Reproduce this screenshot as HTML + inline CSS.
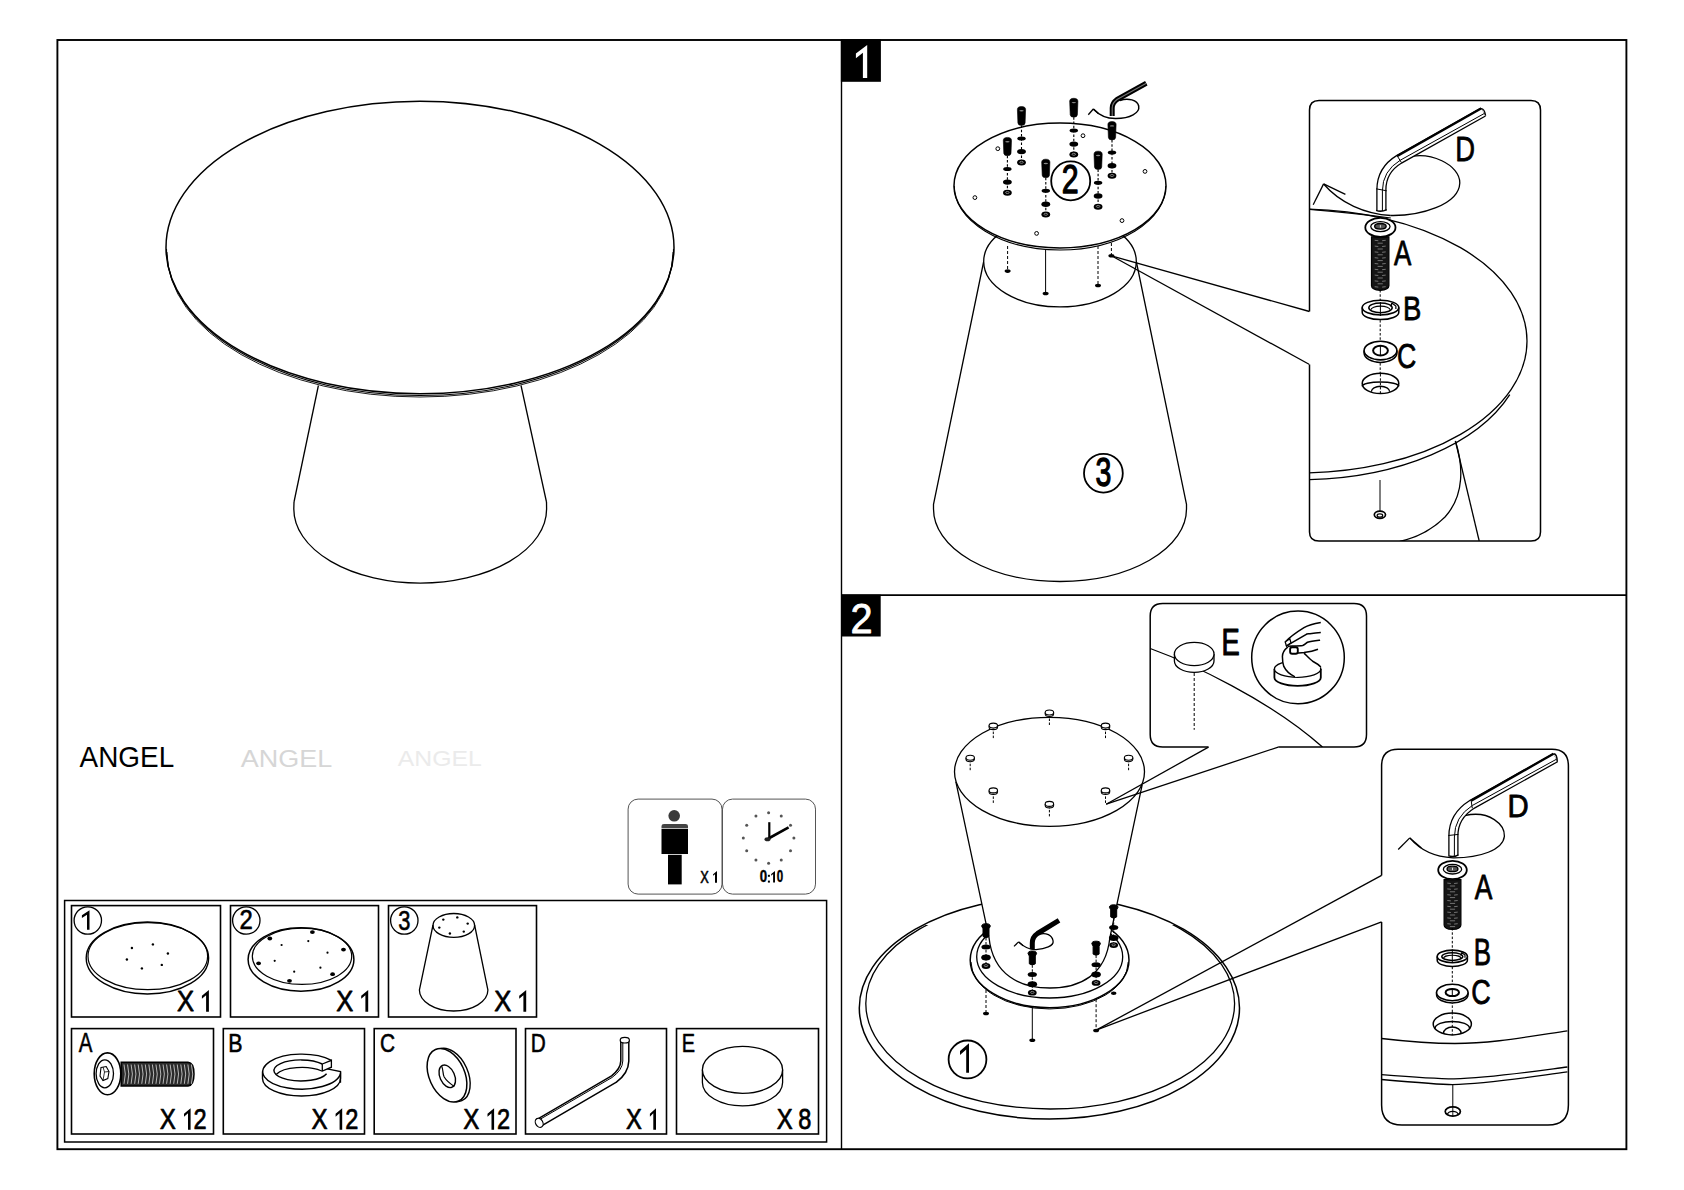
<!DOCTYPE html>
<html><head><meta charset="utf-8"><title>ANGEL assembly</title>
<style>
html,body{margin:0;padding:0;background:#fff;}
body{width:1684px;height:1190px;overflow:hidden;}
svg{display:block;}
text{font-family:"Liberation Sans", sans-serif;font-kerning:none;}
</style></head>
<body>
<svg width="1684" height="1190" viewBox="0 0 1684 1190">
<rect x="0" y="0" width="1684" height="1190" fill="#fff"/>
<rect x="57.4" y="40" width="1569" height="1109.2" fill="none" stroke="#000" stroke-width="1.9"/>
<line x1="841.5" y1="40" x2="841.5" y2="1149.2" stroke="#000" stroke-width="1.4"/>
<line x1="841.5" y1="595.1" x2="1626.4" y2="595.1" stroke="#000" stroke-width="1.6"/>
<line x1="318.4" y1="385.5" x2="294" y2="502" stroke="#000" stroke-width="1.3"/>
<line x1="521" y1="385.5" x2="546.5" y2="502" stroke="#000" stroke-width="1.3"/>
<path d="M294 502 L293.8 509 A126.3 74 0 0 0 546.6 509 L546.5 502" fill="none" stroke="#000" stroke-width="1.3"/>
<ellipse cx="420" cy="247.5" rx="254" ry="146.2" fill="#fff" stroke="#000" stroke-width="1.5"/>
<path d="M166.5 249 A253.5 146.5 0 0 0 673.5 249" fill="none" stroke="#000" stroke-width="1.1"/>
<path d="M167 252 A253 145 0 0 0 673 252" fill="none" stroke="#000" stroke-width="0.9"/>
<text transform="translate(79.6 767.4) scale(0.966 1)" font-size="28.9" fill="#000">ANGEL</text>
<text transform="translate(240.7 766.6) scale(1.12 1)" font-size="24.1" fill="#d6d6d6">ANGEL</text>
<text transform="translate(397.8 765.8) scale(1.137 1)" font-size="21.8" fill="#ebebeb">ANGEL</text>
<rect x="628.1" y="799.1" width="93.9" height="95" fill="none" stroke="#555" stroke-width="1" rx="10"/>
<rect x="722.5" y="799.1" width="93" height="95" fill="none" stroke="#555" stroke-width="1" rx="10"/>
<circle cx="674.2" cy="815.8" r="5.8" fill="#3a3a3a"/>
<path d="M661.5 828.2 L661.5 826 Q661.5 824 664 824 L685.5 824 Q688 824 688 826 L688 828.2 Z" fill="#444" stroke="none" stroke-width="0"/>
<rect x="661.5" y="828.9" width="26.5" height="25.1" fill="#000" stroke="none" stroke-width="0"/>
<rect x="668" y="854.8" width="13.7" height="29.6" fill="#000" stroke="none" stroke-width="0"/>
<text transform="translate(700.26 882.5) scale(0.7917 1)" font-size="16.21" fill="#000" stroke="#000" stroke-width="0.5" stroke-linejoin="round">X</text>
<path d="M717 871.1 L717 882.75 L715 882.75 L715 874.13 L713.1 875.76 L713.1 874.13 Z" fill="#000"/>
<circle cx="768.6" cy="812.7" r="1.5" fill="#555"/>
<circle cx="781.25" cy="816.09" r="1.5" fill="#555"/>
<circle cx="790.51" cy="825.35" r="1.5" fill="#555"/>
<circle cx="793.9" cy="838" r="1.5" fill="#555"/>
<circle cx="790.51" cy="850.65" r="1.5" fill="#555"/>
<circle cx="781.25" cy="859.91" r="1.5" fill="#555"/>
<circle cx="768.6" cy="863.3" r="1.5" fill="#555"/>
<circle cx="755.95" cy="859.91" r="1.5" fill="#555"/>
<circle cx="746.69" cy="850.65" r="1.5" fill="#555"/>
<circle cx="743.3" cy="838" r="1.5" fill="#555"/>
<circle cx="746.69" cy="825.35" r="1.5" fill="#555"/>
<circle cx="755.95" cy="816.09" r="1.5" fill="#555"/>
<line x1="769.3" y1="838.5" x2="769.3" y2="822.2" stroke="#000" stroke-width="2.2"/>
<line x1="768.5" y1="838.5" x2="788.6" y2="827.4" stroke="#000" stroke-width="2.6"/>
<ellipse cx="767.5" cy="839.3" rx="3" ry="2" fill="#222" stroke="none" stroke-width="0"/>
<text transform="translate(759.78 882.25) scale(0.8374 1)" font-size="15.82" fill="#000" font-weight="bold" stroke="#000" stroke-width="0.4" stroke-linejoin="round">0</text>
<rect x="767.9" y="874.8" width="2" height="2" fill="#000"/><rect x="767.9" y="880.6" width="2" height="2" fill="#000"/>
<path d="M775 871 L775 882.6 L773.1 882.6 L773.1 873.96 L771.2 875.64 L771.2 874.02 Z" fill="#000"/>
<text transform="translate(776.84 882.25) scale(0.7311 1)" font-size="15.82" fill="#000" font-weight="bold" stroke="#000" stroke-width="0.4" stroke-linejoin="round">0</text>
<rect x="64.6" y="900.5" width="762" height="241.5" fill="none" stroke="#000" stroke-width="1.5"/>
<rect x="71.5" y="905.6" width="149" height="111.4" fill="none" stroke="#000" stroke-width="1.6"/>
<rect x="230.5" y="905.6" width="148" height="111.4" fill="none" stroke="#000" stroke-width="1.6"/>
<rect x="388.5" y="905.6" width="148" height="111.4" fill="none" stroke="#000" stroke-width="1.6"/>
<rect x="71.5" y="1028.6" width="142" height="105.4" fill="none" stroke="#000" stroke-width="1.6"/>
<rect x="223.3" y="1028.6" width="141.2" height="105.4" fill="none" stroke="#000" stroke-width="1.6"/>
<rect x="374.2" y="1028.6" width="141.8" height="105.4" fill="none" stroke="#000" stroke-width="1.6"/>
<rect x="525.5" y="1028.6" width="141" height="105.4" fill="none" stroke="#000" stroke-width="1.6"/>
<rect x="676.5" y="1028.6" width="142" height="105.4" fill="none" stroke="#000" stroke-width="1.6"/>
<circle cx="87.8" cy="920.5" r="13.7" fill="none" stroke="#000" stroke-width="1.3"/>
<circle cx="246.3" cy="920.5" r="13.7" fill="none" stroke="#000" stroke-width="1.3"/>
<circle cx="404.3" cy="920.5" r="13.7" fill="none" stroke="#000" stroke-width="1.3"/>
<ellipse cx="147.4" cy="958" rx="61.2" ry="36" fill="none" stroke="#000" stroke-width="1.4"/>
<ellipse cx="147.8" cy="956.2" rx="59.8" ry="33.5" fill="none" stroke="#000" stroke-width="1.2"/>
<circle cx="131.9" cy="948" r="1.2" fill="#000"/>
<circle cx="152.9" cy="944.4" r="1.2" fill="#000"/>
<circle cx="167.9" cy="953.5" r="1.2" fill="#000"/>
<circle cx="126.9" cy="959.5" r="1.2" fill="#000"/>
<circle cx="141.9" cy="968.4" r="1.2" fill="#000"/>
<circle cx="161.8" cy="964.9" r="1.2" fill="#000"/>
<ellipse cx="301" cy="959.5" rx="52.9" ry="31.7" fill="none" stroke="#000" stroke-width="1.5"/>
<ellipse cx="302" cy="956.3" rx="49.7" ry="28.1" fill="none" stroke="#000" stroke-width="1.2"/>
<ellipse cx="269.8" cy="938.5" rx="2.4" ry="1.9" fill="#000" stroke="none" stroke-width="0"/>
<ellipse cx="312.4" cy="932.1" rx="2.4" ry="1.9" fill="#000" stroke="none" stroke-width="0"/>
<ellipse cx="343.5" cy="949.6" rx="2.4" ry="1.9" fill="#000" stroke="none" stroke-width="0"/>
<ellipse cx="258.6" cy="963.3" rx="2.4" ry="1.9" fill="#000" stroke="none" stroke-width="0"/>
<ellipse cx="289.5" cy="980.8" rx="2.4" ry="1.9" fill="#000" stroke="none" stroke-width="0"/>
<ellipse cx="332.6" cy="974.2" rx="2.4" ry="1.9" fill="#000" stroke="none" stroke-width="0"/>
<circle cx="281.6" cy="945" r="1.1" fill="#000"/>
<circle cx="308.3" cy="941.1" r="1.1" fill="#000"/>
<circle cx="327.5" cy="952.7" r="1.1" fill="#000"/>
<circle cx="274.7" cy="960.8" r="1.1" fill="#000"/>
<circle cx="294.2" cy="971.7" r="1.1" fill="#000"/>
<circle cx="320.4" cy="967.7" r="1.1" fill="#000"/>
<path d="M433 925 L419.4 990 A34.25 21 0 0 0 487.9 990 L474.6 925" fill="none" stroke="#000" stroke-width="1.3"/>
<ellipse cx="453.8" cy="925.4" rx="20.8" ry="11.9" fill="none" stroke="#000" stroke-width="1.3"/>
<circle cx="443.3" cy="919.6" r="1.2" fill="#000"/>
<circle cx="457.3" cy="917.4" r="1.2" fill="#000"/>
<circle cx="467.7" cy="923.6" r="1.2" fill="#000"/>
<circle cx="439.3" cy="927.6" r="1.2" fill="#000"/>
<circle cx="449.9" cy="933.5" r="1.2" fill="#000"/>
<circle cx="463.8" cy="931.6" r="1.2" fill="#000"/>
<path d="M89.5 910.3 L89.5 929.7 L87 929.7 L87 914.85 L81.9 918.06 L81.9 915.34 Z" fill="#000"/>
<text transform="translate(239.4 929.4) scale(0.8886 1)" font-size="26.92" fill="#000" stroke="#000" stroke-width="0.6" stroke-linejoin="round">2</text>
<text transform="translate(398.26 929.93) scale(0.7924 1)" font-size="27.68" fill="#000" stroke="#000" stroke-width="0.6" stroke-linejoin="round">3</text>
<text transform="translate(176.9 1011.33) scale(0.8441 1)" font-size="30.31" fill="#000" stroke="#000" stroke-width="0.75" stroke-linejoin="round">X</text>
<path d="M208.9 990.1 L208.9 1011.7 L206.1 1011.7 L206.1 995.17 L201.9 998.74 L201.9 995.72 Z" fill="#000"/>
<text transform="translate(336.2 1011.33) scale(0.8441 1)" font-size="30.31" fill="#000" stroke="#000" stroke-width="0.75" stroke-linejoin="round">X</text>
<path d="M368.2 990.1 L368.2 1011.7 L365.4 1011.7 L365.4 995.17 L361.2 998.74 L361.2 995.72 Z" fill="#000"/>
<text transform="translate(494.2 1011.33) scale(0.8441 1)" font-size="30.31" fill="#000" stroke="#000" stroke-width="0.75" stroke-linejoin="round">X</text>
<path d="M526.2 990.1 L526.2 1011.7 L523.4 1011.7 L523.4 995.17 L519.2 998.74 L519.2 995.72 Z" fill="#000"/>
<text transform="translate(159.83 1129.33) scale(0.8282 1)" font-size="29.14" fill="#000" stroke="#000" stroke-width="0.75" stroke-linejoin="round">X</text>
<path d="M190.6 1108.2 L190.6 1129.7 L188 1129.7 L188 1113.14 L184 1116.8 L184 1113.79 Z" fill="#000"/>
<text transform="translate(193.59 1129.33) scale(0.7940 1)" font-size="29.72" fill="#000" stroke="#000" stroke-width="0.75" stroke-linejoin="round">2</text>
<text transform="translate(311.43 1129.33) scale(0.8282 1)" font-size="29.14" fill="#000" stroke="#000" stroke-width="0.75" stroke-linejoin="round">X</text>
<path d="M342.2 1108.2 L342.2 1129.7 L339.6 1129.7 L339.6 1113.14 L335.6 1116.8 L335.6 1113.79 Z" fill="#000"/>
<text transform="translate(345.19 1129.33) scale(0.7940 1)" font-size="29.72" fill="#000" stroke="#000" stroke-width="0.75" stroke-linejoin="round">2</text>
<text transform="translate(463.33 1129.33) scale(0.8282 1)" font-size="29.14" fill="#000" stroke="#000" stroke-width="0.75" stroke-linejoin="round">X</text>
<path d="M494.1 1108.2 L494.1 1129.7 L491.5 1129.7 L491.5 1113.14 L487.5 1116.8 L487.5 1113.79 Z" fill="#000"/>
<text transform="translate(497.09 1129.33) scale(0.7940 1)" font-size="29.72" fill="#000" stroke="#000" stroke-width="0.75" stroke-linejoin="round">2</text>
<text transform="translate(625.94 1129.33) scale(0.8172 1)" font-size="29.14" fill="#000" stroke="#000" stroke-width="0.75" stroke-linejoin="round">X</text>
<path d="M656 1108.2 L656 1129.7 L653.3 1129.7 L653.3 1113.2 L649.9 1116.8 L649.9 1113.79 Z" fill="#000"/>
<text transform="translate(776.74 1129.33) scale(0.8227 1)" font-size="29.14" fill="#000" stroke="#000" stroke-width="0.75" stroke-linejoin="round">X</text>
<text transform="translate(798.35 1129.04) scale(0.8113 1)" font-size="29.03" fill="#000" stroke="#000" stroke-width="0.75" stroke-linejoin="round">8</text>
<text transform="translate(78.86 1052.1) scale(0.7311 1)" font-size="28.05" fill="#000" stroke="#000" stroke-width="0.6" stroke-linejoin="round">A</text>
<text transform="translate(228.24 1051.9) scale(0.8097 1)" font-size="26.45" fill="#000" stroke="#000" stroke-width="0.6" stroke-linejoin="round">B</text>
<text transform="translate(379.94 1051.74) scale(0.7892 1)" font-size="26.41" fill="#000" stroke="#000" stroke-width="0.6" stroke-linejoin="round">C</text>
<text transform="translate(530.7 1051.9) scale(0.7807 1)" font-size="26.60" fill="#000" stroke="#000" stroke-width="0.6" stroke-linejoin="round">D</text>
<text transform="translate(681.87 1051.9) scale(0.7491 1)" font-size="26.60" fill="#000" stroke="#000" stroke-width="0.6" stroke-linejoin="round">E</text>
<path d="M121.2 1062.2 L188 1062.2 Q194 1062.5 194 1074 Q194 1085.6 188 1086 L121.2 1086 Z" fill="#2a2a2a" stroke="#000" stroke-width="1.5"/>
<path d="M124 1064.5 Q126.6 1074 124 1083.8" fill="none" stroke="#c8c8c8" stroke-width="0.9"/>
<path d="M127.55 1064.5 Q130.15 1074 127.55 1083.8" fill="none" stroke="#c8c8c8" stroke-width="0.9"/>
<path d="M131.1 1064.5 Q133.7 1074 131.1 1083.8" fill="none" stroke="#c8c8c8" stroke-width="0.9"/>
<path d="M134.65 1064.5 Q137.25 1074 134.65 1083.8" fill="none" stroke="#c8c8c8" stroke-width="0.9"/>
<path d="M138.2 1064.5 Q140.8 1074 138.2 1083.8" fill="none" stroke="#c8c8c8" stroke-width="0.9"/>
<path d="M141.75 1064.5 Q144.35 1074 141.75 1083.8" fill="none" stroke="#c8c8c8" stroke-width="0.9"/>
<path d="M145.3 1064.5 Q147.9 1074 145.3 1083.8" fill="none" stroke="#c8c8c8" stroke-width="0.9"/>
<path d="M148.85 1064.5 Q151.45 1074 148.85 1083.8" fill="none" stroke="#c8c8c8" stroke-width="0.9"/>
<path d="M152.4 1064.5 Q155 1074 152.4 1083.8" fill="none" stroke="#c8c8c8" stroke-width="0.9"/>
<path d="M155.95 1064.5 Q158.55 1074 155.95 1083.8" fill="none" stroke="#c8c8c8" stroke-width="0.9"/>
<path d="M159.5 1064.5 Q162.1 1074 159.5 1083.8" fill="none" stroke="#c8c8c8" stroke-width="0.9"/>
<path d="M163.05 1064.5 Q165.65 1074 163.05 1083.8" fill="none" stroke="#c8c8c8" stroke-width="0.9"/>
<path d="M166.6 1064.5 Q169.2 1074 166.6 1083.8" fill="none" stroke="#c8c8c8" stroke-width="0.9"/>
<path d="M170.15 1064.5 Q172.75 1074 170.15 1083.8" fill="none" stroke="#c8c8c8" stroke-width="0.9"/>
<path d="M173.7 1064.5 Q176.3 1074 173.7 1083.8" fill="none" stroke="#c8c8c8" stroke-width="0.9"/>
<path d="M177.25 1064.5 Q179.85 1074 177.25 1083.8" fill="none" stroke="#c8c8c8" stroke-width="0.9"/>
<path d="M180.8 1064.5 Q183.4 1074 180.8 1083.8" fill="none" stroke="#c8c8c8" stroke-width="0.9"/>
<path d="M184.35 1064.5 Q186.95 1074 184.35 1083.8" fill="none" stroke="#c8c8c8" stroke-width="0.9"/>
<path d="M187.9 1064.5 Q190.5 1074 187.9 1083.8" fill="none" stroke="#c8c8c8" stroke-width="0.9"/>
<path d="M191.45 1064.5 Q194.05 1074 191.45 1083.8" fill="none" stroke="#c8c8c8" stroke-width="0.9"/>
<ellipse cx="107.5" cy="1073.8" rx="13.3" ry="20.9" fill="#fff" stroke="#000" stroke-width="1.6"/>
<ellipse cx="104.8" cy="1073.8" rx="8.7" ry="14" fill="none" stroke="#000" stroke-width="1.3"/>
<path d="M101 1067.5 L106.2 1066.5 L109 1071.5 L107.8 1078.5 L103 1080.5 L100 1076 Z" fill="none" stroke="#000" stroke-width="1.1"/>
<path d="M103 1067 L104.5 1072 L109 1071.5 M104.5 1072 L103 1080.5" fill="none" stroke="#000" stroke-width="0.8"/>
<path d="M262.5 1071.5 L262.5 1078.5 A39 17.5 0 0 0 340.5 1078.5 L340.5 1071.5" fill="#fff" stroke="#000" stroke-width="1.4"/>
<path d="M331.4 1060.3 A39 17.5 0 1 0 340.5 1073.5" fill="#fff" stroke="#000" stroke-width="1.4"/>
<path d="M327.2 1068.8 L340.5 1071.5 L340.5 1082.7" fill="none" stroke="#000" stroke-width="1.3"/>
<path d="M322.3 1064 A27 10.5 0 1 0 326.6 1073.7" fill="#fff" stroke="#000" stroke-width="1.4"/>
<path d="M276.4 1074.2 A27 10.5 0 0 1 321.8 1071" fill="none" stroke="#000" stroke-width="1.3"/>
<path d="M322.3 1064 L331.4 1060.3 L331.4 1067.2 L322.3 1071 Z" fill="#fff" stroke="#000" stroke-width="1.3"/>
<ellipse cx="450.3" cy="1075" rx="17.75" ry="28.2" fill="none" stroke="#000" stroke-width="1.4" transform="rotate(-24.2 450.3 1075)"/>
<ellipse cx="447" cy="1075.25" rx="17.75" ry="28.2" fill="#fff" stroke="#000" stroke-width="1.5" transform="rotate(-24.2 447 1075.25)"/>
<ellipse cx="447.25" cy="1076.3" rx="7.3" ry="11.9" fill="none" stroke="#000" stroke-width="1.4" transform="rotate(-24.2 447.25 1076.3)"/>
<path d="M441.7 1066.2 C443.5 1070 442.5 1074 444.2 1077 C446 1080 449 1083 454.3 1086.4" fill="none" stroke="#000" stroke-width="1.2"/>
<path d="M624.8 1041 L624.8 1061 Q624.5 1071 614 1079 L539.5 1122.5" fill="none" stroke="#000" stroke-width="9.5" stroke-linejoin="round"/>
<path d="M624.8 1041 L624.8 1061 Q624.5 1071 614 1079 L539.5 1122.5" fill="none" stroke="#fff" stroke-width="6.5" stroke-linejoin="round"/>
<path d="M622.8 1042 L622.8 1061 Q622.5 1070 612 1077.5 L538 1120.5" fill="none" stroke="#000" stroke-width="1.0"/>
<ellipse cx="624.8" cy="1040.2" rx="4.6" ry="2.8" fill="#fff" stroke="#000" stroke-width="1.2"/>
<ellipse cx="539.2" cy="1122.8" rx="3.6" ry="4.8" fill="#fff" stroke="#000" stroke-width="1.2" transform="rotate(-30 539.2 1122.8)"/>
<path d="M702.4 1069.8 L702.4 1082.5 A40.1 23.4 0 0 0 782.6 1082.5 L782.6 1069.8" fill="#fff" stroke="#000" stroke-width="1.3"/>
<ellipse cx="742.5" cy="1069.8" rx="40.1" ry="23.5" fill="#fff" stroke="#000" stroke-width="1.3"/>
<rect x="840.9" y="39.2" width="40" height="42.6" fill="#000" stroke="none" stroke-width="0"/>
<path d="M867.2 45 L867.2 77.9 L862.9 77.9 L862.9 52.75 L855.9 58.16 L855.9 53.55 Z" fill="#fff"/>
<rect x="841" y="594.6" width="39.7" height="41.9" fill="#000" stroke="none" stroke-width="0"/>
<text transform="translate(850.6 632.9) scale(0.9156 1)" font-size="43.39" fill="#fff" stroke="#fff" stroke-width="0.8" stroke-linejoin="round">2</text>
<path d="M983.7 261.5 L933.5 504.3 L933.5 509 A126.5 72.5 0 0 0 1186.5 509 L1186.5 504.3 L1136.3 261.5" fill="#fff" stroke="#000" stroke-width="1.3"/>
<ellipse cx="1060" cy="261.5" rx="76.3" ry="45.4" fill="#fff" stroke="#000" stroke-width="1.3"/>
<circle cx="1103.4" cy="473.2" r="19.4" fill="none" stroke="#000" stroke-width="1.8"/>
<text transform="translate(1095.57 486.25) scale(0.7024 1)" font-size="40.54" fill="#000" stroke="#000" stroke-width="1.3" stroke-linejoin="round">3</text>
<line x1="1007.6" y1="246" x2="1007.6" y2="271.1" stroke="#000" stroke-width="1.0" stroke-dasharray="3 2"/>
<ellipse cx="1007.6" cy="271.1" rx="3" ry="1.8" fill="#000" stroke="none" stroke-width="0"/>
<line x1="1045.6" y1="249" x2="1045.6" y2="293.5" stroke="#000" stroke-width="1.0"/>
<ellipse cx="1045.6" cy="293.5" rx="3" ry="1.8" fill="#000" stroke="none" stroke-width="0"/>
<line x1="1098" y1="246" x2="1098" y2="285.5" stroke="#000" stroke-width="1.0" stroke-dasharray="3 2"/>
<ellipse cx="1098" cy="285.5" rx="3" ry="1.8" fill="#000" stroke="none" stroke-width="0"/>
<line x1="1111.4" y1="243" x2="1111.4" y2="255.8" stroke="#000" stroke-width="1.0" stroke-dasharray="3 2"/>
<ellipse cx="1111.4" cy="255.8" rx="3" ry="1.8" fill="#000" stroke="none" stroke-width="0"/>
<line x1="1111.4" y1="255.8" x2="1309.5" y2="311.5" stroke="#000" stroke-width="1.3"/>
<line x1="1111.4" y1="255.8" x2="1309.5" y2="364.5" stroke="#000" stroke-width="1.3"/>
<ellipse cx="1060" cy="185.5" rx="106" ry="62.4" fill="#fff" stroke="#000" stroke-width="1.5"/>
<path d="M954.2 186 A105.8 64 0 0 0 1165.8 186" fill="none" stroke="#000" stroke-width="1.1"/>
<circle cx="997.8" cy="148.7" r="1.9" fill="none" stroke="#000" stroke-width="1.0"/>
<circle cx="1083" cy="135.7" r="1.9" fill="none" stroke="#000" stroke-width="1.0"/>
<circle cx="1145" cy="171.4" r="1.9" fill="none" stroke="#000" stroke-width="1.0"/>
<circle cx="974.9" cy="197.6" r="1.9" fill="none" stroke="#000" stroke-width="1.0"/>
<circle cx="1036.6" cy="233.4" r="1.9" fill="none" stroke="#000" stroke-width="1.0"/>
<circle cx="1122" cy="220.6" r="1.9" fill="none" stroke="#000" stroke-width="1.0"/>
<circle cx="1070.7" cy="180.9" r="19.5" fill="#fff" stroke="#000" stroke-width="1.8"/>
<text transform="translate(1061.63 193.45) scale(0.7554 1)" font-size="40.10" fill="#000" stroke="#000" stroke-width="1.3" stroke-linejoin="round">2</text>
<line x1="1021.5" y1="125.4" x2="1021.5" y2="162.6" stroke="#000" stroke-width="1.1" stroke-dasharray="2.5 1.8"/>
<path d="M1017.4 109.5 Q1017.4 106.5 1021.5 106.5 Q1025.6 106.5 1025.6 109.5 L1025.1 122.9 Q1024.9 125.4 1021.5 125.4 Q1018.1 125.4 1017.9 122.9 Z" fill="#000" stroke="#000" stroke-width="0.6"/>
<ellipse cx="1021.5" cy="110.8" rx="2.2" ry="0.7" fill="#888" stroke="none" stroke-width="0"/>
<ellipse cx="1021.5" cy="138.6" rx="4.2" ry="2" fill="#000" stroke="none" stroke-width="0"/>
<ellipse cx="1021.5" cy="151.6" rx="4.4" ry="2.7" fill="#000" stroke="none" stroke-width="0"/>
<ellipse cx="1021.5" cy="162.6" rx="4.4" ry="3" fill="#000" stroke="none" stroke-width="0"/>
<ellipse cx="1021.5" cy="162.3" rx="1.8" ry="1" fill="none" stroke="#aaa" stroke-width="0.7"/>
<line x1="1073.8" y1="117.2" x2="1073.8" y2="154.6" stroke="#000" stroke-width="1.1" stroke-dasharray="2.5 1.8"/>
<path d="M1069.7 101.3 Q1069.7 98.3 1073.8 98.3 Q1077.9 98.3 1077.9 101.3 L1077.4 114.7 Q1077.2 117.2 1073.8 117.2 Q1070.4 117.2 1070.2 114.7 Z" fill="#000" stroke="#000" stroke-width="0.6"/>
<ellipse cx="1073.8" cy="102.6" rx="2.2" ry="0.7" fill="#888" stroke="none" stroke-width="0"/>
<ellipse cx="1073.8" cy="130.4" rx="4.2" ry="2" fill="#000" stroke="none" stroke-width="0"/>
<ellipse cx="1073.8" cy="144.1" rx="4.4" ry="2.7" fill="#000" stroke="none" stroke-width="0"/>
<ellipse cx="1073.8" cy="154.6" rx="4.4" ry="3" fill="#000" stroke="none" stroke-width="0"/>
<ellipse cx="1073.8" cy="154.3" rx="1.8" ry="1" fill="none" stroke="#aaa" stroke-width="0.7"/>
<line x1="1007.4" y1="155.7" x2="1007.4" y2="192.8" stroke="#000" stroke-width="1.1" stroke-dasharray="2.5 1.8"/>
<path d="M1003.3 140.4 Q1003.3 137.4 1007.4 137.4 Q1011.5 137.4 1011.5 140.4 L1011 153.2 Q1010.8 155.7 1007.4 155.7 Q1004 155.7 1003.8 153.2 Z" fill="#000" stroke="#000" stroke-width="0.6"/>
<ellipse cx="1007.4" cy="141.7" rx="2.2" ry="0.7" fill="#888" stroke="none" stroke-width="0"/>
<ellipse cx="1007.4" cy="168.9" rx="4.2" ry="2" fill="#000" stroke="none" stroke-width="0"/>
<ellipse cx="1007.4" cy="182.1" rx="4.4" ry="2.7" fill="#000" stroke="none" stroke-width="0"/>
<ellipse cx="1007.4" cy="192.8" rx="4.4" ry="3" fill="#000" stroke="none" stroke-width="0"/>
<ellipse cx="1007.4" cy="192.5" rx="1.8" ry="1" fill="none" stroke="#aaa" stroke-width="0.7"/>
<line x1="1045.8" y1="177.7" x2="1045.8" y2="214.6" stroke="#000" stroke-width="1.1" stroke-dasharray="2.5 1.8"/>
<path d="M1041.7 162.2 Q1041.7 159.2 1045.8 159.2 Q1049.9 159.2 1049.9 162.2 L1049.4 175.2 Q1049.2 177.7 1045.8 177.7 Q1042.4 177.7 1042.2 175.2 Z" fill="#000" stroke="#000" stroke-width="0.6"/>
<ellipse cx="1045.8" cy="163.5" rx="2.2" ry="0.7" fill="#888" stroke="none" stroke-width="0"/>
<ellipse cx="1045.8" cy="190.7" rx="4.2" ry="2" fill="#000" stroke="none" stroke-width="0"/>
<ellipse cx="1045.8" cy="204.2" rx="4.4" ry="2.7" fill="#000" stroke="none" stroke-width="0"/>
<ellipse cx="1045.8" cy="214.6" rx="4.4" ry="3" fill="#000" stroke="none" stroke-width="0"/>
<ellipse cx="1045.8" cy="214.3" rx="1.8" ry="1" fill="none" stroke="#aaa" stroke-width="0.7"/>
<line x1="1098.1" y1="169.5" x2="1098.1" y2="206.7" stroke="#000" stroke-width="1.1" stroke-dasharray="2.5 1.8"/>
<path d="M1094 154.2 Q1094 151.2 1098.1 151.2 Q1102.2 151.2 1102.2 154.2 L1101.7 167 Q1101.5 169.5 1098.1 169.5 Q1094.7 169.5 1094.5 167 Z" fill="#000" stroke="#000" stroke-width="0.6"/>
<ellipse cx="1098.1" cy="155.5" rx="2.2" ry="0.7" fill="#888" stroke="none" stroke-width="0"/>
<ellipse cx="1098.1" cy="182.7" rx="4.2" ry="2" fill="#000" stroke="none" stroke-width="0"/>
<ellipse cx="1098.1" cy="196" rx="4.4" ry="2.7" fill="#000" stroke="none" stroke-width="0"/>
<ellipse cx="1098.1" cy="206.7" rx="4.4" ry="3" fill="#000" stroke="none" stroke-width="0"/>
<ellipse cx="1098.1" cy="206.4" rx="1.8" ry="1" fill="none" stroke="#aaa" stroke-width="0.7"/>
<line x1="1112" y1="139.9" x2="1112" y2="175.8" stroke="#000" stroke-width="1.1" stroke-dasharray="2.5 1.8"/>
<path d="M1107.9 124.6 Q1107.9 121.6 1112 121.6 Q1116.1 121.6 1116.1 124.6 L1115.6 137.4 Q1115.4 139.9 1112 139.9 Q1108.6 139.9 1108.4 137.4 Z" fill="#000" stroke="#000" stroke-width="0.6"/>
<ellipse cx="1112" cy="125.9" rx="2.2" ry="0.7" fill="#888" stroke="none" stroke-width="0"/>
<ellipse cx="1112" cy="152.5" rx="4.2" ry="2" fill="#000" stroke="none" stroke-width="0"/>
<ellipse cx="1112" cy="165.7" rx="4.4" ry="2.7" fill="#000" stroke="none" stroke-width="0"/>
<ellipse cx="1112" cy="175.8" rx="4.4" ry="3" fill="#000" stroke="none" stroke-width="0"/>
<ellipse cx="1112" cy="175.5" rx="1.8" ry="1" fill="none" stroke="#aaa" stroke-width="0.7"/>
<path d="M1146.3 83.2 L1117 99.5 Q1112.2 103 1112.2 108 L1112.2 116" fill="none" stroke="#000" stroke-width="5" stroke-linejoin="round"/>
<path d="M1146.3 83.2 L1117 99.5 Q1112.2 103 1112.2 108 L1112.2 116" fill="none" stroke="#777" stroke-width="1.1" stroke-linejoin="round"/>
<path d="M1093.3 109 C1099 115 1106 118.8 1116 118.6 C1130 118.5 1140 113 1138.7 106 C1137.5 100 1128 97.5 1120 100.5" fill="none" stroke="#000" stroke-width="1.5"/>
<line x1="1093.3" y1="109" x2="1088.3" y2="114.7" stroke="#000" stroke-width="1.3"/>
<line x1="1093.3" y1="109" x2="1098.4" y2="113.4" stroke="#000" stroke-width="1.3"/>
<clipPath id="c1"><rect x="1309.5" y="100.4" width="231" height="440.6" rx="9"/></clipPath>
<g clip-path="url(#c1)">
<line x1="1455.4" y1="441" x2="1479.2" y2="541" stroke="#000" stroke-width="1.3"/>
<path d="M1455.4 441 C1463 465 1465 495 1445 517 C1432 530 1415 538 1399.8 541.5" fill="none" stroke="#000" stroke-width="1.3"/>
<path d="M1300 209 A227 132 0 0 1 1300 473" fill="#fff" stroke="#000" stroke-width="1.3"/>
<path d="M1509.8 394.6 A224 132 0 0 1 1309.5 479.6" fill="none" stroke="#000" stroke-width="1.3"/>
<line x1="1380" y1="480" x2="1380" y2="511" stroke="#000" stroke-width="1.0"/>
<ellipse cx="1379.9" cy="514.8" rx="5.6" ry="3.6" fill="#fff" stroke="#000" stroke-width="1.7"/>
<ellipse cx="1379.9" cy="515.5" rx="2.8" ry="1.6" fill="none" stroke="#000" stroke-width="1.2"/>
</g>
<path d="M1309.5 311.5 L1309.5 110 Q1309.5 100.4 1319 100.4 L1531 100.4 Q1540.5 100.4 1540.5 110 L1540.5 532 Q1540.5 541 1531 541 L1319 541 Q1309.5 541 1309.5 532 L1309.5 364.5" fill="none" stroke="#000" stroke-width="1.5"/>
<path d="M1405 158 C1430 150 1460 165 1459.8 183 C1459 205 1420 216 1390.8 215.5" fill="none" stroke="#000" stroke-width="1.3"/>
<path d="M1390.8 215.5 C1365 214 1340 203 1323.6 184" fill="none" stroke="#000" stroke-width="1.3"/>
<line x1="1323.6" y1="183.9" x2="1313.2" y2="204.7" stroke="#000" stroke-width="1.3"/>
<line x1="1323.6" y1="183.9" x2="1345.4" y2="194.3" stroke="#000" stroke-width="1.3"/>
<path d="M1483.3 112.1 L1399.3 159.2 Q1381.4 170 1381.4 189.8 L1381.4 210.5" fill="none" stroke="#000" stroke-width="10.3" stroke-linejoin="round"/>
<path d="M1483.3 112.1 L1399.3 159.2 Q1381.4 170 1381.4 189.8 L1381.4 210.5" fill="none" stroke="#fff" stroke-width="7.7" stroke-linejoin="round"/>
<path d="M1481 108.6 L1397.3 156" fill="none" stroke="#000" stroke-width="2.3"/>
<path d="M1484.8 113.2 L1400.3 160.2 Q1382.4 171 1382.4 190.8 L1382.4 211" fill="none" stroke="#000" stroke-width="1.0"/>
<line x1="1397.3" y1="156" x2="1401.4" y2="162.5" stroke="#000" stroke-width="1.0"/>
<line x1="1376.1" y1="188.8" x2="1386.7" y2="190.8" stroke="#000" stroke-width="1.0"/>
<path d="M1481 108.6 Q1484.5 108.5 1485.6 115.6" fill="none" stroke="#000" stroke-width="1.4"/>
<path d="M1376.1 210.3 Q1381 212.5 1386.7 209.6" fill="none" stroke="#000" stroke-width="1.4"/>
<path d="M1309.5 209.4 C1340 212 1365 214.5 1390.8 218" fill="none" stroke="#000" stroke-width="1.2"/>
<path d="M1371.5 236.8 L1388.9 236.8 L1388.9 285.8 Q1388.9 289.8 1380.2 290.4 Q1371.5 289.8 1371.5 285.8 Z" fill="#151515" stroke="#000" stroke-width="1.2"/>
<line x1="1374.7" y1="240.3" x2="1378.3" y2="240.7" stroke="#8c8c8c" stroke-width="0.8"/>
<line x1="1382.1" y1="240.7" x2="1385.7" y2="240.3" stroke="#8c8c8c" stroke-width="0.8"/>
<line x1="1377.6" y1="243.2" x2="1382.8" y2="243.2" stroke="#8c8c8c" stroke-width="0.8"/>
<line x1="1374.7" y1="246.1" x2="1378.3" y2="246.5" stroke="#8c8c8c" stroke-width="0.8"/>
<line x1="1382.1" y1="246.5" x2="1385.7" y2="246.1" stroke="#8c8c8c" stroke-width="0.8"/>
<line x1="1377.6" y1="249" x2="1382.8" y2="249" stroke="#8c8c8c" stroke-width="0.8"/>
<line x1="1374.7" y1="251.9" x2="1378.3" y2="252.3" stroke="#8c8c8c" stroke-width="0.8"/>
<line x1="1382.1" y1="252.3" x2="1385.7" y2="251.9" stroke="#8c8c8c" stroke-width="0.8"/>
<line x1="1377.6" y1="254.8" x2="1382.8" y2="254.8" stroke="#8c8c8c" stroke-width="0.8"/>
<line x1="1374.7" y1="257.7" x2="1378.3" y2="258.1" stroke="#8c8c8c" stroke-width="0.8"/>
<line x1="1382.1" y1="258.1" x2="1385.7" y2="257.7" stroke="#8c8c8c" stroke-width="0.8"/>
<line x1="1377.6" y1="260.6" x2="1382.8" y2="260.6" stroke="#8c8c8c" stroke-width="0.8"/>
<line x1="1374.7" y1="263.5" x2="1378.3" y2="263.9" stroke="#8c8c8c" stroke-width="0.8"/>
<line x1="1382.1" y1="263.9" x2="1385.7" y2="263.5" stroke="#8c8c8c" stroke-width="0.8"/>
<line x1="1377.6" y1="266.4" x2="1382.8" y2="266.4" stroke="#8c8c8c" stroke-width="0.8"/>
<line x1="1374.7" y1="269.3" x2="1378.3" y2="269.7" stroke="#8c8c8c" stroke-width="0.8"/>
<line x1="1382.1" y1="269.7" x2="1385.7" y2="269.3" stroke="#8c8c8c" stroke-width="0.8"/>
<line x1="1377.6" y1="272.2" x2="1382.8" y2="272.2" stroke="#8c8c8c" stroke-width="0.8"/>
<line x1="1374.7" y1="275.1" x2="1378.3" y2="275.5" stroke="#8c8c8c" stroke-width="0.8"/>
<line x1="1382.1" y1="275.5" x2="1385.7" y2="275.1" stroke="#8c8c8c" stroke-width="0.8"/>
<line x1="1377.6" y1="278" x2="1382.8" y2="278" stroke="#8c8c8c" stroke-width="0.8"/>
<line x1="1374.7" y1="280.9" x2="1378.3" y2="281.3" stroke="#8c8c8c" stroke-width="0.8"/>
<line x1="1382.1" y1="281.3" x2="1385.7" y2="280.9" stroke="#8c8c8c" stroke-width="0.8"/>
<line x1="1377.6" y1="283.8" x2="1382.8" y2="283.8" stroke="#8c8c8c" stroke-width="0.8"/>
<line x1="1374.7" y1="286.7" x2="1378.3" y2="287.1" stroke="#8c8c8c" stroke-width="0.8"/>
<line x1="1382.1" y1="287.1" x2="1385.7" y2="286.7" stroke="#8c8c8c" stroke-width="0.8"/>
<ellipse cx="1380.4" cy="227.4" rx="15.1" ry="9.5" fill="#fff" stroke="#000" stroke-width="1.8"/>
<ellipse cx="1380.4" cy="226.6" rx="9.66" ry="4.94" fill="none" stroke="#000" stroke-width="1.3"/>
<ellipse cx="1380.4" cy="226.3" rx="5.74" ry="2.85" fill="#555" stroke="#000" stroke-width="1.4"/>
<line x1="1380.4" y1="225.1" x2="1380.4" y2="227.6" stroke="#fff" stroke-width="0.8"/>
<text transform="translate(1393.95 264.8) scale(0.7225 1)" font-size="35.90" fill="#000" stroke="#000" stroke-width="0.8" stroke-linejoin="round">A</text>
<line x1="1380.2" y1="290" x2="1380.2" y2="383" stroke="#000" stroke-width="1.0" stroke-dasharray="2.5 1.8"/>
<path d="M1362.2 307.6 L1362.2 312.2 A18.3 7.4 0 0 0 1398.8 312.2 L1398.8 307.6" fill="#fff" stroke="#000" stroke-width="1.5"/>
<ellipse cx="1380.5" cy="307.6" rx="18.3" ry="7.4" fill="#fff" stroke="#000" stroke-width="1.6"/>
<ellipse cx="1380.5" cy="307.8" rx="11.7" ry="4.85" fill="none" stroke="#000" stroke-width="1.5"/>
<path d="M1370.91 309.78 A9.59 3.64 0 0 1 1390.09 309.78" fill="none" stroke="#000" stroke-width="1.2"/>
<path d="M1391.85 303.01 L1395.87 306.12 L1395.87 309.08 M1391.85 303.01 L1390.93 306.86" fill="none" stroke="#000" stroke-width="1.2"/>
<line x1="1380.4" y1="302" x2="1380.4" y2="316" stroke="#000" stroke-width="1.0"/>
<text transform="translate(1402.95 320.4) scale(0.8206 1)" font-size="33.43" fill="#000" stroke="#000" stroke-width="0.8" stroke-linejoin="round">B</text>
<path d="M1364.1 350.6 L1364.1 353.1 A16.4 9.3 0 0 0 1396.9 353.1 L1396.9 350.6" fill="#fff" stroke="#000" stroke-width="1.5"/>
<ellipse cx="1380.5" cy="350.6" rx="16.4" ry="9.3" fill="#fff" stroke="#000" stroke-width="1.6"/>
<ellipse cx="1380.5" cy="350.6" rx="7.4" ry="4.85" fill="none" stroke="#000" stroke-width="2.0"/>
<line x1="1380.4" y1="346" x2="1380.4" y2="356" stroke="#000" stroke-width="1.0"/>
<text transform="translate(1397.04 367.77) scale(0.7807 1)" font-size="34.18" fill="#000" stroke="#000" stroke-width="0.8" stroke-linejoin="round">C</text>
<ellipse cx="1380.5" cy="383.4" rx="18.3" ry="10.15" fill="#fff" stroke="#000" stroke-width="1.5"/>
<path d="M1362.2 386.2 A18.3 4.2 0 0 1 1398.8 386.2" fill="none" stroke="#000" stroke-width="1.4"/>
<path d="M1371.3 391.8 A9.2 5.6 0 0 1 1389.7 391.8" fill="none" stroke="#000" stroke-width="1.4"/>
<line x1="1380.4" y1="374" x2="1380.4" y2="393" stroke="#000" stroke-width="1.0" stroke-dasharray="2.5 1.8"/>
<text transform="translate(1455.16 160.8) scale(0.7618 1)" font-size="35.90" fill="#000" stroke="#000" stroke-width="0.8" stroke-linejoin="round">D</text>
<ellipse cx="1049.4" cy="1008" rx="190.1" ry="111.1" fill="#fff" stroke="#000" stroke-width="1.5"/>
<clipPath id="tt"><rect x="850" y="925" width="400" height="220"/></clipPath>
<g clip-path="url(#tt)">
<ellipse cx="1050.2" cy="1003.5" rx="184.4" ry="105.5" fill="none" stroke="#000" stroke-width="1.3"/>
</g>
<circle cx="967.5" cy="1059.4" r="18.9" fill="none" stroke="#000" stroke-width="1.8"/>
<path d="M969 1043.2 L969 1072.8 L966.2 1072.8 L966.2 1049.53 L960 1055.04 L960 1050.9 Z" fill="#000"/>
<line x1="986" y1="990" x2="986" y2="1013.5" stroke="#000" stroke-width="1.0" stroke-dasharray="3 2"/>
<ellipse cx="986" cy="1013.5" rx="3" ry="1.8" fill="#000" stroke="none" stroke-width="0"/>
<line x1="1032.3" y1="1007" x2="1032.3" y2="1040.2" stroke="#000" stroke-width="1.0"/>
<ellipse cx="1032.3" cy="1040.2" rx="3" ry="1.8" fill="#000" stroke="none" stroke-width="0"/>
<line x1="1096.1" y1="999.2" x2="1096.1" y2="1030.5" stroke="#000" stroke-width="1.0" stroke-dasharray="3 2"/>
<ellipse cx="1096.1" cy="1030.5" rx="3" ry="1.8" fill="#000" stroke="none" stroke-width="0"/>
<line x1="1096.2" y1="1030.1" x2="1381.6" y2="875.4" stroke="#000" stroke-width="1.3"/>
<line x1="1096.2" y1="1030.1" x2="1381.6" y2="921.9" stroke="#000" stroke-width="1.3"/>
<ellipse cx="1049.6" cy="960" rx="79.4" ry="47.7" fill="#fff" stroke="#000" stroke-width="1.5"/>
<path d="M971 962 A78.6 47 0 0 0 1128.2 962" fill="none" stroke="#000" stroke-width="1.0"/>
<ellipse cx="1049.7" cy="956.8" rx="73" ry="41.2" fill="none" stroke="#000" stroke-width="1.3"/>
<ellipse cx="1113.7" cy="993.3" rx="2.8" ry="1.8" fill="#000" stroke="none" stroke-width="0"/>
<path d="M956 782.4 L989 937.5 C993 975 1020 988 1050 988 C1080 988 1106 975 1109.8 938 L1142 785.6 Z" fill="#fff" stroke="#000" stroke-width="1.3"/>
<ellipse cx="1049.5" cy="771.8" rx="95" ry="54.5" fill="#fff" stroke="#000" stroke-width="1.3"/>
<line x1="1049.4" y1="714.5" x2="1049.4" y2="726.5" stroke="#000" stroke-width="1.0" stroke-dasharray="2.5 1.5"/>
<path d="M1045.2 712.5 L1045.2 714.1 A4.2 2.4 0 0 0 1053.6 714.1 L1053.6 712.5" fill="#fff" stroke="#000" stroke-width="1.1"/>
<ellipse cx="1049.4" cy="712.5" rx="4.2" ry="2.5" fill="#fff" stroke="#000" stroke-width="1.1"/>
<line x1="993.3" y1="727.6" x2="993.3" y2="739.6" stroke="#000" stroke-width="1.0" stroke-dasharray="2.5 1.5"/>
<path d="M989.1 725.6 L989.1 727.2 A4.2 2.4 0 0 0 997.5 727.2 L997.5 725.6" fill="#fff" stroke="#000" stroke-width="1.1"/>
<ellipse cx="993.3" cy="725.6" rx="4.2" ry="2.5" fill="#fff" stroke="#000" stroke-width="1.1"/>
<line x1="1105.5" y1="727.6" x2="1105.5" y2="739.6" stroke="#000" stroke-width="1.0" stroke-dasharray="2.5 1.5"/>
<path d="M1101.3 725.6 L1101.3 727.2 A4.2 2.4 0 0 0 1109.7 727.2 L1109.7 725.6" fill="#fff" stroke="#000" stroke-width="1.1"/>
<ellipse cx="1105.5" cy="725.6" rx="4.2" ry="2.5" fill="#fff" stroke="#000" stroke-width="1.1"/>
<line x1="970.2" y1="759.7" x2="970.2" y2="771.7" stroke="#000" stroke-width="1.0" stroke-dasharray="2.5 1.5"/>
<path d="M966 757.7 L966 759.3 A4.2 2.4 0 0 0 974.4 759.3 L974.4 757.7" fill="#fff" stroke="#000" stroke-width="1.1"/>
<ellipse cx="970.2" cy="757.7" rx="4.2" ry="2.5" fill="#fff" stroke="#000" stroke-width="1.1"/>
<line x1="1128.6" y1="759.7" x2="1128.6" y2="771.7" stroke="#000" stroke-width="1.0" stroke-dasharray="2.5 1.5"/>
<path d="M1124.4 757.7 L1124.4 759.3 A4.2 2.4 0 0 0 1132.8 759.3 L1132.8 757.7" fill="#fff" stroke="#000" stroke-width="1.1"/>
<ellipse cx="1128.6" cy="757.7" rx="4.2" ry="2.5" fill="#fff" stroke="#000" stroke-width="1.1"/>
<line x1="993.3" y1="792.4" x2="993.3" y2="804.4" stroke="#000" stroke-width="1.0" stroke-dasharray="2.5 1.5"/>
<path d="M989.1 790.4 L989.1 792 A4.2 2.4 0 0 0 997.5 792 L997.5 790.4" fill="#fff" stroke="#000" stroke-width="1.1"/>
<ellipse cx="993.3" cy="790.4" rx="4.2" ry="2.5" fill="#fff" stroke="#000" stroke-width="1.1"/>
<line x1="1105.5" y1="792.4" x2="1105.5" y2="804.4" stroke="#000" stroke-width="1.0" stroke-dasharray="2.5 1.5"/>
<path d="M1101.3 790.4 L1101.3 792 A4.2 2.4 0 0 0 1109.7 792 L1109.7 790.4" fill="#fff" stroke="#000" stroke-width="1.1"/>
<ellipse cx="1105.5" cy="790.4" rx="4.2" ry="2.5" fill="#fff" stroke="#000" stroke-width="1.1"/>
<line x1="1049.4" y1="805.9" x2="1049.4" y2="817.9" stroke="#000" stroke-width="1.0" stroke-dasharray="2.5 1.5"/>
<path d="M1045.2 803.9 L1045.2 805.5 A4.2 2.4 0 0 0 1053.6 805.5 L1053.6 803.9" fill="#fff" stroke="#000" stroke-width="1.1"/>
<ellipse cx="1049.4" cy="803.9" rx="4.2" ry="2.5" fill="#fff" stroke="#000" stroke-width="1.1"/>
<line x1="986" y1="938" x2="986" y2="966" stroke="#000" stroke-width="1.0" stroke-dasharray="2.5 1.5"/>
<path d="M981.7 926.2 Q981.7 923.7 986 923.7 Q990.3 923.7 990.3 926.2 L989 928.7 L989 936.5 Q986 939 983 936.5 L983 928.7 Z" fill="#000" stroke="#000" stroke-width="1.0"/>
<ellipse cx="986" cy="947.1" rx="4.6" ry="2.5" fill="#000" stroke="none" stroke-width="0"/>
<ellipse cx="986" cy="957.5" rx="4.8" ry="3" fill="#000" stroke="none" stroke-width="0"/>
<ellipse cx="986" cy="966" rx="4.4" ry="2.9" fill="#000" stroke="none" stroke-width="0"/>
<ellipse cx="986" cy="965.7" rx="1.8" ry="1" fill="none" stroke="#aaa" stroke-width="0.7"/>
<line x1="1032.3" y1="965.3" x2="1032.3" y2="992.7" stroke="#000" stroke-width="1.0" stroke-dasharray="2.5 1.5"/>
<path d="M1028 953.5 Q1028 951 1032.3 951 Q1036.6 951 1036.6 953.5 L1035.3 956 L1035.3 963.8 Q1032.3 966.3 1029.3 963.8 L1029.3 956 Z" fill="#000" stroke="#000" stroke-width="1.0"/>
<ellipse cx="1032.3" cy="974.4" rx="4.6" ry="2.5" fill="#000" stroke="none" stroke-width="0"/>
<ellipse cx="1032.3" cy="984.2" rx="4.8" ry="3" fill="#000" stroke="none" stroke-width="0"/>
<ellipse cx="1032.3" cy="992.7" rx="4.4" ry="2.9" fill="#000" stroke="none" stroke-width="0"/>
<ellipse cx="1032.3" cy="992.4" rx="1.8" ry="1" fill="none" stroke="#aaa" stroke-width="0.7"/>
<line x1="1096.1" y1="955.6" x2="1096.1" y2="982.9" stroke="#000" stroke-width="1.0" stroke-dasharray="2.5 1.5"/>
<path d="M1091.8 943.7 Q1091.8 941.2 1096.1 941.2 Q1100.4 941.2 1100.4 943.7 L1099.1 946.2 L1099.1 954.1 Q1096.1 956.6 1093.1 954.1 L1093.1 946.2 Z" fill="#000" stroke="#000" stroke-width="1.0"/>
<ellipse cx="1096.1" cy="964.7" rx="4.6" ry="2.5" fill="#000" stroke="none" stroke-width="0"/>
<ellipse cx="1096.1" cy="974.4" rx="4.8" ry="3" fill="#000" stroke="none" stroke-width="0"/>
<ellipse cx="1096.1" cy="982.9" rx="4.4" ry="2.9" fill="#000" stroke="none" stroke-width="0"/>
<ellipse cx="1096.1" cy="982.6" rx="1.8" ry="1" fill="none" stroke="#aaa" stroke-width="0.7"/>
<line x1="1113.7" y1="918.4" x2="1113.7" y2="945.1" stroke="#000" stroke-width="1.0" stroke-dasharray="2.5 1.5"/>
<path d="M1109.4 907.3 Q1109.4 904.8 1113.7 904.8 Q1118 904.8 1118 907.3 L1116.7 909.8 L1116.7 916.9 Q1113.7 919.4 1110.7 916.9 L1110.7 909.8 Z" fill="#000" stroke="#000" stroke-width="1.0"/>
<ellipse cx="1113.7" cy="927.6" rx="4.6" ry="2.5" fill="#000" stroke="none" stroke-width="0"/>
<ellipse cx="1113.7" cy="938" rx="4.8" ry="3" fill="#000" stroke="none" stroke-width="0"/>
<ellipse cx="1113.7" cy="945.1" rx="4.4" ry="2.9" fill="#000" stroke="none" stroke-width="0"/>
<ellipse cx="1113.7" cy="944.8" rx="1.8" ry="1" fill="none" stroke="#aaa" stroke-width="0.7"/>
<path d="M1059 920.4 L1037.5 933.5 Q1032.3 937 1032.3 943 L1032.3 949" fill="none" stroke="#000" stroke-width="5" stroke-linejoin="round"/>
<path d="M1018.6 941.9 C1024 947 1030 950 1036 949.7 C1045 949 1054 946 1053.1 941 C1052 935 1046 932.5 1040 934" fill="none" stroke="#000" stroke-width="1.3"/>
<line x1="1018.6" y1="941.9" x2="1014" y2="946.4" stroke="#000" stroke-width="1.3"/>
<line x1="1018.6" y1="941.9" x2="1023.2" y2="945.8" stroke="#000" stroke-width="1.3"/>
<clipPath id="cE"><rect x="1150.2" y="603.5" width="216.3" height="143.6" rx="12"/></clipPath>
<g clip-path="url(#cE)">
<path d="M1150.2 648.5 C1190 663 1270 700 1322.5 747.1" fill="none" stroke="#000" stroke-width="1.3"/>
<line x1="1194.2" y1="673" x2="1194.2" y2="729.8" stroke="#000" stroke-width="1.0" stroke-dasharray="3 2"/>
<path d="M1174.4 654 L1174.4 661 A19.8 11.4 0 0 0 1214 661 L1214 654" fill="#fff" stroke="#000" stroke-width="1.3"/>
<ellipse cx="1194.2" cy="654" rx="19.8" ry="11.6" fill="#fff" stroke="#000" stroke-width="1.3"/>
</g>
<path d="M1208.5 747.1 L1162.7 747.1 Q1150.2 747.1 1150.2 734.6 L1150.2 616 Q1150.2 603.5 1162.7 603.5 L1354 603.5 Q1366.5 603.5 1366.5 616 L1366.5 734.6 Q1366.5 747.1 1354 747.1 L1278.2 747.1" fill="none" stroke="#000" stroke-width="1.5"/>
<line x1="1208.5" y1="747.1" x2="1106.2" y2="804.2" stroke="#000" stroke-width="1.3"/>
<line x1="1278.2" y1="747.1" x2="1106.2" y2="804.2" stroke="#000" stroke-width="1.3"/>
<text transform="translate(1221.41 655.45) scale(0.7455 1)" font-size="36.63" fill="#000" stroke="#000" stroke-width="1.1" stroke-linejoin="round">E</text>
<circle cx="1298" cy="657.4" r="46.3" fill="none" stroke="#000" stroke-width="1.5"/>
<path d="M1274.4 669 L1274.4 677.5 A23.2 8.4 0 0 0 1320.8 677.5 L1320.8 669" fill="#fff" stroke="#000" stroke-width="1.8"/>
<ellipse cx="1297.6" cy="669" rx="23.2" ry="8.2" fill="#fff" stroke="#000" stroke-width="1.4"/>
<path d="M1285.2 642 C1290 637 1297 632 1304 627.7 C1306 626.5 1312 624 1320.8 622.5 L1320.8 649.3 C1314 651 1309 652 1304 652.4 C1307 656 1310 659.5 1313.1 661.5 C1316 663 1319 665 1320.8 667.1 C1316 673 1305 677 1295 676.9 C1290 674.5 1286 671 1283.8 666.4 C1283 664 1282.4 661 1282.4 656.6 C1282.4 653 1284 650 1288 646.9 Z" fill="#fff" stroke="none" stroke-width="0"/>
<path d="M1320.8 622.5 C1312 624 1306 626.5 1304 627.7 C1297 632 1290 637 1285.2 642" fill="none" stroke="#000" stroke-width="1.5"/>
<path d="M1285.2 642 L1289.8 638.8 L1291 642.8 L1286.5 646.2 Z" fill="#fff" stroke="#000" stroke-width="1.3"/>
<path d="M1286 646.2 C1295 641 1302 637 1305.4 635 C1307 633.5 1308 634 1310 633.8 C1314 633.2 1318 632.8 1320.8 632.6" fill="none" stroke="#000" stroke-width="1.5"/>
<path d="M1288 646.2 C1294 646 1300 646 1302.7 645.5 C1305 644.5 1306 643 1307.5 642.3 C1311 641 1316 640.6 1320.1 640.2" fill="none" stroke="#000" stroke-width="1.5"/>
<path d="M1297.8 653.1 C1300 652.8 1302 652.5 1304 652.4 C1309 652 1314 651 1318 649.3" fill="none" stroke="#000" stroke-width="1.5"/>
<path d="M1304 653.1 C1307 656 1310 659.5 1313.1 661.5 C1316 663 1319 665 1320.8 667.1" fill="none" stroke="#000" stroke-width="1.5"/>
<path d="M1288 646.9 C1284 650 1282.4 653 1282.4 656.6 C1282.4 661 1283 664 1283.8 666.4 C1286 671 1290 674.5 1295 676.9" fill="none" stroke="#000" stroke-width="1.5"/>
<rect x="1290.1" y="647.2" width="7.7" height="6.6" fill="#fff" stroke="#000" stroke-width="1.9" rx="2"/>
<clipPath id="c2"><rect x="1381.6" y="749.3" width="186.8" height="375.7" rx="16"/></clipPath>
<g clip-path="url(#c2)">
<path d="M1381.5 1038.5 C1420 1043 1440 1043.5 1455 1043.5 C1490 1043.5 1520 1038 1567.4 1030.8" fill="none" stroke="#000" stroke-width="1.3"/>
<path d="M1381.5 1074.7 C1410 1077 1440 1078.9 1454 1078.9 C1490 1078 1530 1072 1567.4 1067" fill="none" stroke="#000" stroke-width="1.3"/>
<path d="M1381.5 1079.5 C1410 1082 1440 1084.6 1452.2 1084.6 C1490 1084 1530 1077 1567.4 1071.8" fill="none" stroke="#000" stroke-width="1.3"/>
<line x1="1452.8" y1="1085" x2="1452.8" y2="1106" stroke="#000" stroke-width="1.0"/>
<ellipse cx="1452.8" cy="1111.5" rx="7.6" ry="4.6" fill="#fff" stroke="#000" stroke-width="1.7"/>
<path d="M1447.5 1114.5 A5.3 3.2 0 0 1 1458.1 1114.5" fill="none" stroke="#000" stroke-width="1.3"/>
<line x1="1452.8" y1="1106" x2="1452.8" y2="1116" stroke="#000" stroke-width="0.9"/>
</g>
<path d="M1381.6 875.4 L1381.6 766 Q1381.6 749.3 1398 749.3 L1552 749.3 Q1568.4 749.3 1568.4 766 L1568.4 1105 Q1568.4 1125 1548 1125 L1402 1125 Q1381.6 1125 1381.6 1105 L1381.6 921.9" fill="none" stroke="#000" stroke-width="1.5"/>
<path d="M1465 815.5 C1490 810 1505 825 1504.4 836.3 C1503 850 1480 858 1453 857.8" fill="none" stroke="#000" stroke-width="1.3"/>
<path d="M1453 857.8 C1435 857 1420 850 1409.8 837.9" fill="none" stroke="#000" stroke-width="1.3"/>
<line x1="1409.8" y1="837.9" x2="1398.2" y2="849.5" stroke="#000" stroke-width="1.3"/>
<line x1="1409.8" y1="837.9" x2="1421.4" y2="847.9" stroke="#000" stroke-width="1.3"/>
<path d="M1555.4 757.8 L1471.8 804.5 Q1453.4 816 1453.4 836 L1453.4 855.5" fill="none" stroke="#000" stroke-width="10.3" stroke-linejoin="round"/>
<path d="M1555.4 757.8 L1471.8 804.5 Q1453.4 816 1453.4 836 L1453.4 855.5" fill="none" stroke="#fff" stroke-width="7.7" stroke-linejoin="round"/>
<path d="M1553.5 753.7 L1471.2 800.8" fill="none" stroke="#000" stroke-width="2.3"/>
<path d="M1556.7 759.1 L1472.3 805.5 Q1454.4 817 1454.4 837 L1454.4 855.8" fill="none" stroke="#000" stroke-width="1.0"/>
<line x1="1471.2" y1="800.8" x2="1472.3" y2="808.3" stroke="#000" stroke-width="1.0"/>
<line x1="1448.3" y1="835.5" x2="1458.4" y2="834.4" stroke="#000" stroke-width="1.0"/>
<path d="M1553.5 753.7 Q1557 753.5 1557.3 761.8" fill="none" stroke="#000" stroke-width="1.4"/>
<path d="M1448.3 855.6 Q1453 858 1458.4 854.9" fill="none" stroke="#000" stroke-width="1.4"/>
<text transform="translate(1507.39 816.6) scale(0.9445 1)" font-size="31.11" fill="#000" stroke="#000" stroke-width="0.8" stroke-linejoin="round">D</text>
<path d="M1444.1 879.6 L1460.9 879.6 L1460.9 924.9 Q1460.9 928.9 1452.5 929.5 Q1444.1 928.9 1444.1 924.9 Z" fill="#151515" stroke="#000" stroke-width="1.2"/>
<line x1="1447.3" y1="883.1" x2="1450.9" y2="883.5" stroke="#8c8c8c" stroke-width="0.8"/>
<line x1="1454.1" y1="883.5" x2="1457.7" y2="883.1" stroke="#8c8c8c" stroke-width="0.8"/>
<line x1="1449.9" y1="886" x2="1455.1" y2="886" stroke="#8c8c8c" stroke-width="0.8"/>
<line x1="1447.3" y1="888.9" x2="1450.9" y2="889.3" stroke="#8c8c8c" stroke-width="0.8"/>
<line x1="1454.1" y1="889.3" x2="1457.7" y2="888.9" stroke="#8c8c8c" stroke-width="0.8"/>
<line x1="1449.9" y1="891.8" x2="1455.1" y2="891.8" stroke="#8c8c8c" stroke-width="0.8"/>
<line x1="1447.3" y1="894.7" x2="1450.9" y2="895.1" stroke="#8c8c8c" stroke-width="0.8"/>
<line x1="1454.1" y1="895.1" x2="1457.7" y2="894.7" stroke="#8c8c8c" stroke-width="0.8"/>
<line x1="1449.9" y1="897.6" x2="1455.1" y2="897.6" stroke="#8c8c8c" stroke-width="0.8"/>
<line x1="1447.3" y1="900.5" x2="1450.9" y2="900.9" stroke="#8c8c8c" stroke-width="0.8"/>
<line x1="1454.1" y1="900.9" x2="1457.7" y2="900.5" stroke="#8c8c8c" stroke-width="0.8"/>
<line x1="1449.9" y1="903.4" x2="1455.1" y2="903.4" stroke="#8c8c8c" stroke-width="0.8"/>
<line x1="1447.3" y1="906.3" x2="1450.9" y2="906.7" stroke="#8c8c8c" stroke-width="0.8"/>
<line x1="1454.1" y1="906.7" x2="1457.7" y2="906.3" stroke="#8c8c8c" stroke-width="0.8"/>
<line x1="1449.9" y1="909.2" x2="1455.1" y2="909.2" stroke="#8c8c8c" stroke-width="0.8"/>
<line x1="1447.3" y1="912.1" x2="1450.9" y2="912.5" stroke="#8c8c8c" stroke-width="0.8"/>
<line x1="1454.1" y1="912.5" x2="1457.7" y2="912.1" stroke="#8c8c8c" stroke-width="0.8"/>
<line x1="1449.9" y1="915" x2="1455.1" y2="915" stroke="#8c8c8c" stroke-width="0.8"/>
<line x1="1447.3" y1="917.9" x2="1450.9" y2="918.3" stroke="#8c8c8c" stroke-width="0.8"/>
<line x1="1454.1" y1="918.3" x2="1457.7" y2="917.9" stroke="#8c8c8c" stroke-width="0.8"/>
<line x1="1449.9" y1="920.8" x2="1455.1" y2="920.8" stroke="#8c8c8c" stroke-width="0.8"/>
<line x1="1447.3" y1="923.7" x2="1450.9" y2="924.1" stroke="#8c8c8c" stroke-width="0.8"/>
<line x1="1454.1" y1="924.1" x2="1457.7" y2="923.7" stroke="#8c8c8c" stroke-width="0.8"/>
<line x1="1449.9" y1="926.6" x2="1455.1" y2="926.6" stroke="#8c8c8c" stroke-width="0.8"/>
<ellipse cx="1452.5" cy="870" rx="14.3" ry="9.2" fill="#fff" stroke="#000" stroke-width="1.8"/>
<ellipse cx="1452.5" cy="869.2" rx="9.15" ry="4.78" fill="none" stroke="#000" stroke-width="1.3"/>
<ellipse cx="1452.5" cy="868.9" rx="5.43" ry="2.76" fill="#555" stroke="#000" stroke-width="1.4"/>
<line x1="1452.5" y1="867.7" x2="1452.5" y2="870.2" stroke="#fff" stroke-width="0.8"/>
<text transform="translate(1474.85 898.9) scale(0.7534 1)" font-size="35.03" fill="#000" stroke="#000" stroke-width="0.8" stroke-linejoin="round">A</text>
<line x1="1452.3" y1="928" x2="1452.3" y2="1033" stroke="#000" stroke-width="1.0" stroke-dasharray="2.5 1.8"/>
<path d="M1437.2 956.4 L1437.2 960.2 A15.1 6.3 0 0 0 1467.4 960.2 L1467.4 956.4" fill="#fff" stroke="#000" stroke-width="1.5"/>
<ellipse cx="1452.3" cy="956.4" rx="15.1" ry="6.3" fill="#fff" stroke="#000" stroke-width="1.6"/>
<ellipse cx="1452.3" cy="956.6" rx="10.5" ry="3.8" fill="none" stroke="#000" stroke-width="1.5"/>
<path d="M1443.69 958.11 A8.61 2.85 0 0 1 1460.91 958.11" fill="none" stroke="#000" stroke-width="1.2"/>
<path d="M1461.66 952.49 L1464.98 955.14 L1464.98 957.66 M1461.66 952.49 L1460.91 955.77" fill="none" stroke="#000" stroke-width="1.2"/>
<line x1="1452.3" y1="951" x2="1452.3" y2="963" stroke="#000" stroke-width="1.0"/>
<text transform="translate(1473.77 964.6) scale(0.7107 1)" font-size="36.48" fill="#000" stroke="#000" stroke-width="0.8" stroke-linejoin="round">B</text>
<path d="M1436.55 992.5 L1436.55 994.7 A15.75 8.2 0 0 0 1468.05 994.7 L1468.05 992.5" fill="#fff" stroke="#000" stroke-width="1.5"/>
<ellipse cx="1452.3" cy="992.5" rx="15.75" ry="8.2" fill="#fff" stroke="#000" stroke-width="1.6"/>
<ellipse cx="1452.3" cy="992.5" rx="6.7" ry="3.6" fill="none" stroke="#000" stroke-width="2.0"/>
<line x1="1452.3" y1="988" x2="1452.3" y2="997" stroke="#000" stroke-width="1.0"/>
<text transform="translate(1471.23 1004.15) scale(0.7616 1)" font-size="35.45" fill="#000" stroke="#000" stroke-width="0.8" stroke-linejoin="round">C</text>
<ellipse cx="1452.3" cy="1024" rx="19.1" ry="10.9" fill="#fff" stroke="#000" stroke-width="1.5"/>
<path d="M1435.1 1028.2 A17.2 6.7 0 0 1 1469.5 1028.2" fill="none" stroke="#000" stroke-width="1.4"/>
<path d="M1443.5 1033.3 A8.8 6.3 0 0 1 1461.1 1033.3" fill="none" stroke="#000" stroke-width="1.4"/>
<line x1="1452.3" y1="1012" x2="1452.3" y2="1035" stroke="#000" stroke-width="1.0" stroke-dasharray="2.5 1.8"/>
</svg>
</body></html>
